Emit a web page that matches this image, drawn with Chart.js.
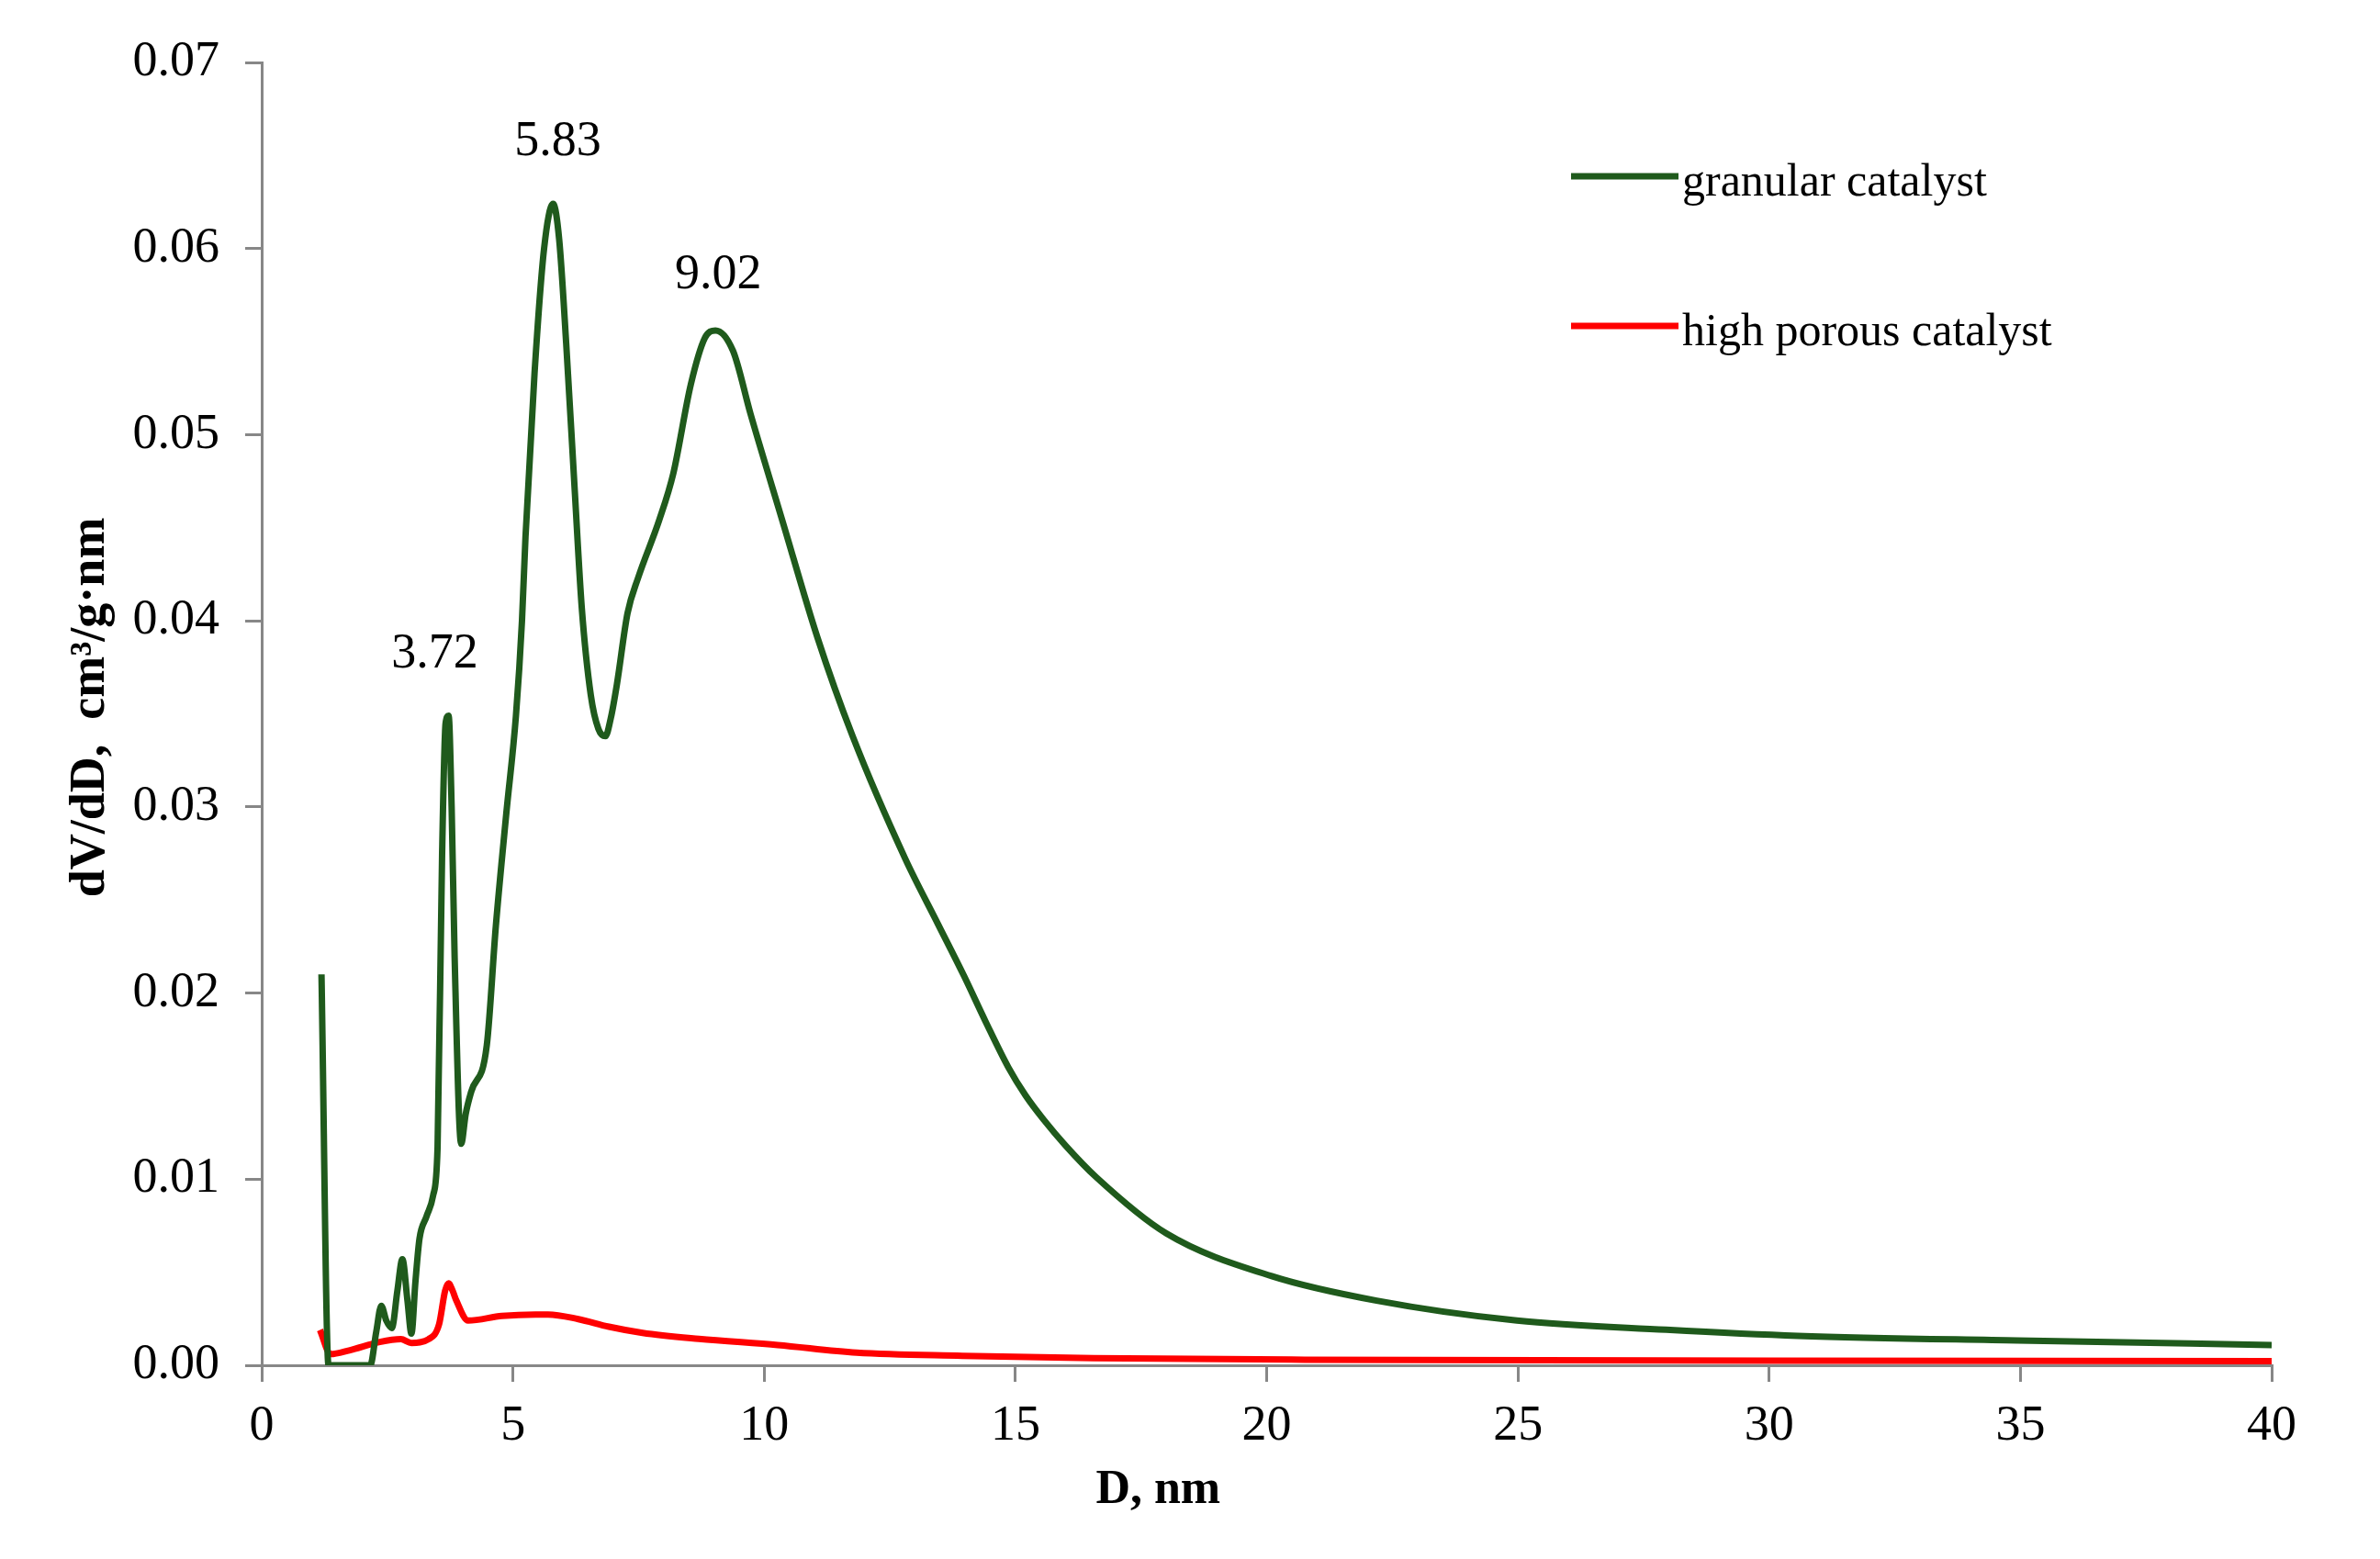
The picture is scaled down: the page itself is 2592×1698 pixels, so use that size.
<!DOCTYPE html>
<html>
<head>
<meta charset="utf-8">
<script src="https://cdn.jsdelivr.net/npm/chart.js@4.4.1/dist/chart.umd.min.js"></script>
<style>
  html, body { margin: 0; padding: 0; background: #ffffff; }
  #wrap { width: 2592px; height: 1698px; }
</style>
</head>
<body>
<div id="wrap"><canvas id="c" width="2592" height="1698"></canvas></div>
<script>
// ---- Data ----
const granularX = [1.19, 1.33, 1.6, 2.0, 2.16, 2.28, 2.38, 2.48, 2.59, 2.70, 2.80, 2.90, 2.98, 3.06, 3.14, 3.28, 3.41, 3.50, 3.59, 3.66, 3.72, 3.78, 3.84, 3.97, 4.06, 4.17, 4.48, 4.66, 4.87, 5.06, 5.18, 5.25, 5.43, 5.62, 5.80, 5.92, 6.06, 6.23, 6.37, 6.55, 6.70, 6.84, 6.95, 7.07, 7.28, 7.49, 7.91, 8.19, 8.54, 8.82, 9.03, 9.38, 9.73, 10.36, 11.06, 11.76, 12.81, 13.46, 13.98, 14.4, 14.86, 15.2, 15.56, 16.0, 16.61, 18.0, 20.1, 22.19, 24.98, 27.95, 30.57, 34.94, 40];
const granularY = [0.0210, 0.0000, 0.0000, 0.0000, 0.0000, 0.0018, 0.0032, 0.0024, 0.0020, 0.0040, 0.0057, 0.0035, 0.0017, 0.0045, 0.0068, 0.0080, 0.0091, 0.0117, 0.0274, 0.0345, 0.0349, 0.0300, 0.0219, 0.0119, 0.0135, 0.0147, 0.0172, 0.0236, 0.0297, 0.0349, 0.0400, 0.0445, 0.0533, 0.0600, 0.0624, 0.0605, 0.0549, 0.0470, 0.0407, 0.0360, 0.0342, 0.0338, 0.0348, 0.0366, 0.0404, 0.0423, 0.0454, 0.0479, 0.0527, 0.0552, 0.0556, 0.0545, 0.0511, 0.0454, 0.0391, 0.0338, 0.0272, 0.0237, 0.0209, 0.0185, 0.0160, 0.0145, 0.0132, 0.0118, 0.0101, 0.00709, 0.00479, 0.00347, 0.0024, 0.00191, 0.00158, 0.00133, 0.00109];

const porousX = [1.16, 1.37, 1.74, 2.35, 2.77, 2.98, 3.32, 3.53, 3.65, 3.72, 3.80, 3.87, 4.11, 4.78, 5.45, 5.70, 6.30, 6.91, 7.58, 8.70, 10.27, 11.84, 13.94, 16.56, 20.76, 30, 40];
const porousY = [0.0019, 0.0006, 0.0008, 0.00125, 0.0014, 0.0012, 0.0014, 0.0022, 0.0040, 0.0044, 0.0040, 0.0035, 0.0024, 0.00265, 0.00273, 0.00273, 0.00248, 0.00207, 0.00174, 0.00142, 0.00109, 0.00068, 0.00051, 0.00038, 0.0003, 0.00025, 0.00022];

const seriesNames = ["granular catalyst", "high porous catalyst"];
const peakLabels = ["3.72", "5.83", "9.02"];
const peakX = [3.72, 5.80, 9.03];
const peakY = [0.0349, 0.0624, 0.0556];

const xTickMin = 0, xTickMax = 40, xTickStep = 5;
const yTickMin = 0, yTickMax = 0.07, yTickStep = 0.01;
const xTitle = "D, nm";
const yTitle = "dV/dD,  cm\u00B3/g\u00B7nm";

// ---- Styles ----
const GREEN = "#1f5a1c";
const RED = "#ff0000";
const AXIS = "#878787";
const SERIF = "'Liberation Serif', 'DejaVu Serif', serif";

function toPoints(xs, ys) { return xs.map((x, i) => ({ x: x, y: ys[i] })); }

const overlay = {
  id: "overlay",
  afterDraw(chart) {
    const ctx = chart.ctx;
    const a = chart.chartArea;
    const xs = chart.scales.x, ys = chart.scales.y;
    ctx.save();
    ctx.fillStyle = "#000";
    // peak labels
    ctx.font = "54px " + SERIF;
    ctx.textAlign = "center";
    ctx.textBaseline = "middle";
    const dx = [-15, 5, 3];
    const dy = [-67, -67, -60];
    peakLabels.forEach((t, i) => {
      const px = xs.getPixelForValue(peakX[i]) + dx[i];
      const py = ys.getPixelForValue(peakY[i]) + dy[i];
      ctx.fillText(t, px, py);
    });
    // x title
    ctx.font = "bold 52px " + SERIF;
    ctx.textBaseline = "alphabetic";
    ctx.fillText(xTitle, a.left + (a.right - a.left) * 0.446, a.bottom + 150);
    // y title
    ctx.save();
    ctx.translate(113, (a.top + a.bottom) / 2 - 7);
    ctx.rotate(-Math.PI / 2);
    ctx.font = "bold 54px " + SERIF;
    ctx.textAlign = "center";
    ctx.fillText(yTitle, 0, 0);
    ctx.restore();
    // legend
    const lx0 = a.left + (1711 - 285), lx1 = a.left + (1828 - 285);
    const rows = [a.top + (192 - 68), a.top + (355 - 68)];
    ctx.font = "50px " + SERIF;
    ctx.textAlign = "left";
    chart.data.datasets.forEach((ds, i) => {
      ctx.strokeStyle = ds.borderColor;
      ctx.lineWidth = 7;
      ctx.beginPath();
      ctx.moveTo(lx0, rows[i]);
      ctx.lineTo(lx1, rows[i]);
      ctx.stroke();
      ctx.fillStyle = "#000";
      ctx.textBaseline = "alphabetic";
      ctx.fillText(ds.label, lx1 + 4, rows[i] + 21);
    });
    ctx.restore();
  }
};

new Chart(document.getElementById("c"), {
  type: "line",
  data: {
    datasets: [
      {
        label: seriesNames[0],
        data: toPoints(granularX, granularY),
        borderColor: GREEN,
        borderWidth: 7,
        pointRadius: 0,
        cubicInterpolationMode: "monotone",
        fill: false
      },
      {
        label: seriesNames[1],
        data: toPoints(porousX, porousY),
        borderColor: RED,
        borderWidth: 7,
        pointRadius: 0,
        cubicInterpolationMode: "monotone",
        fill: false
      }
    ]
  },
  options: {
    responsive: false,
    animation: false,
    devicePixelRatio: 1,
    layout: { padding: { top: 68, right: 118, bottom: 0, left: 0 } },
    plugins: { legend: { display: false }, tooltip: { enabled: false } },
    scales: {
      x: {
        type: "linear",
        min: xTickMin, max: xTickMax,
        afterFit(s) { s.height = 211; },
        ticks: {
          stepSize: xTickStep,
          color: "#000",
          font: { family: SERIF, size: 54 },
          padding: 16,
          maxRotation: 0,
          autoSkip: false
        },
        grid: { drawOnChartArea: false, drawTicks: true, tickLength: 18, color: AXIS, lineWidth: 3 },
        border: { display: true, color: AXIS, width: 3 }
      },
      y: {
        type: "linear",
        min: yTickMin, max: yTickMax,
        afterFit(s) { s.width = 285; },
        ticks: {
          stepSize: yTickStep,
          color: "#000",
          font: { family: SERIF, size: 54 },
          padding: 28,
          callback: (v) => Number(v).toFixed(2)
        },
        grid: { drawOnChartArea: false, drawTicks: true, tickLength: 18, color: AXIS, lineWidth: 3 },
        border: { display: true, color: AXIS, width: 3 }
      }
    }
  },
  plugins: [overlay]
});
</script>
</body>
</html>
